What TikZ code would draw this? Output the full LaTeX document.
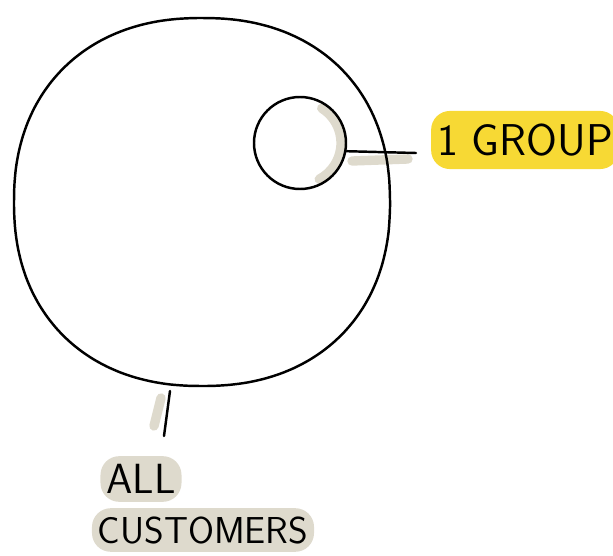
\documentclass[tikz,border=0pt]{standalone}
\usepackage{tikz}

\definecolor{hlyellow}{HTML}{F7D934}
\definecolor{hlbeige}{HTML}{DEDACD}

\tikzset{
  pen/.style={line width=2.1pt, line cap=round, line join=round},
  smudge/.style={hlbeige, line width=8pt, line cap=round},
  tag/.style={font=\sffamily\fontsize{#1}{#1}\selectfont, inner xsep=5pt, inner ysep=7pt, rounded corners=16pt}
}

\begin{document}
\begin{tikzpicture}[x=0.03cm, y=-0.03cm]

  % Page frame
  \useasboundingbox (0,0) rectangle (613,555);

  % Pencil smudges behind the strokes
  \draw[smudge] (300,143) ++(-58:41) arc (-58:62:41);
  \draw[smudge] (352,161) -- (408,159);
  \draw[smudge] (161,398) -- (154,426);

  % Outer blob (all customers)
  \draw[pen] plot[smooth cycle, domain=0.5:357.5, samples=72]
    ({202+188*(cos(\x)>0 ? 1 : -1)*abs(cos(\x))^0.9},
     {202-184*(sin(\x)>0 ? 1 : -1)*abs(sin(\x))^0.9});

  % Inner circle (one group)
  \node[pen, draw, circle, minimum size=2.76cm, inner sep=0pt] (grp) at (300,143) {};

  % Labels
  \node[tag=38, fill=hlyellow, inner ysep=11pt] (grplab) at (525,140) {1 GROUP};
  \node[tag=36, fill=hlbeige] (alllab) at (141,479) {ALL};
  \node[tag=32, fill=hlbeige] (custlab) at (203,530) {CUSTOMERS};

  % Pointer lines
  \coordinate (grpend) at (416,153);
  \coordinate (allbot) at (170,391);
  \coordinate (alltip) at (164,436);
  \draw[pen] (grp.-10) -- (grpend);
  \draw[pen] (allbot) -- (alltip);

\end{tikzpicture}
\end{document}
